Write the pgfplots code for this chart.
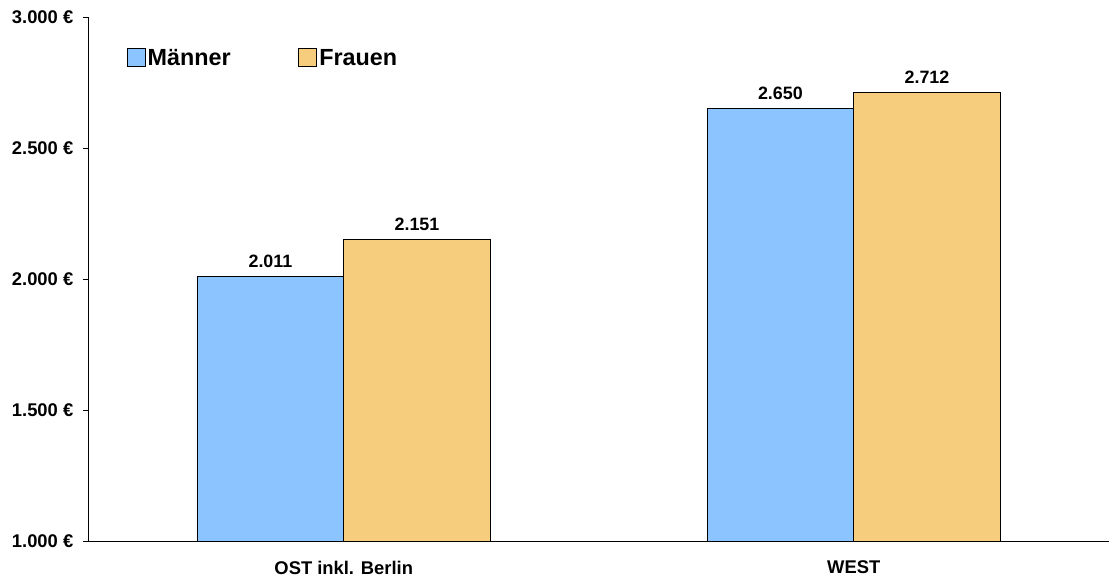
\documentclass[border=0pt]{standalone}
\usepackage{pgfplots}
\pgfplotsset{compat=1.18}
\usepackage{fontspec}
\setmainfont{Liberation Sans}
\definecolor{mblue}{RGB}{140,196,255}
\definecolor{forange}{RGB}{245,205,125}
\begin{document}
\begin{tikzpicture}
\begin{axis}[
  scale only axis,
  width=1023bp, height=526bp,
  ybar=0pt, bar width=147bp,
  axis lines=left,
  axis line style={-, line width=1bp},
  xmin=-0.5, xmax=1.5,
  ymin=1000, ymax=3000,
  xtick={0,1},
  xticklabels={OST inkl. Berlin, WEST},
  major x tick style={draw=none},
  extra x ticks={-0.5,0.5,1.5},
  extra x tick labels={},
  extra x tick style={major tick length=6bp, tick style={draw=black, line width=0.8bp}},
  ytick={1000,1500,2000,2500,3000},
  yticklabels={1.000 €,1.500 €,2.000 €,2.500 €,3.000 €},
  tick align=outside,
  major tick length=6bp,
  tick style={black, line width=0.8bp},
  tick label style={font=\fontsize{18.5}{21}\selectfont\bfseries},
  x tick label style={yshift=-10bp},
  y tick label style={xshift=-6bp},
  nodes near coords,
  nodes near coords style={font=\fontsize{18}{21}\selectfont\bfseries, yshift=5bp,
    /pgf/number format/assume math mode=true,
    /pgf/number format/fixed, /pgf/number format/precision=0,
    /pgf/number format/1000 sep={.}},
  legend style={at={(0.037,0.922)}, anchor=west, draw=none, fill=none,
    legend columns=2, font=\fontsize{23.5}{27}\selectfont\bfseries,
    /tikz/every even column/.append style={column sep=66bp},
    inner sep=0pt},
  legend image code/.code={\draw[#1,draw=black,line width=1bp] (0bp,-9bp) rectangle (18bp,9bp);},
  clip=false,
]
\addplot[fill=mblue, draw=black, line width=0.8bp] coordinates {(0,2011) (1,2650)};
\addplot[fill=forange, draw=black, line width=0.8bp] coordinates {(0,2151) (1,2712)};
\legend{M\"anner, Frauen}
\end{axis}
\path (current axis.south west) ++(-89bp,-38bp) rectangle ([yshift=17bp]current axis.north east);
\end{tikzpicture}
\end{document}
